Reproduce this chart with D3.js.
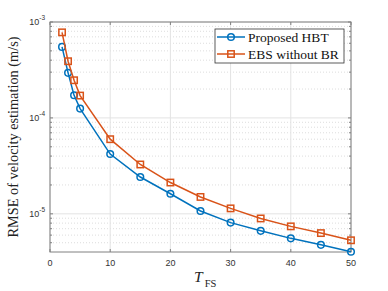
<!DOCTYPE html>
<html>
<head>
<meta charset="utf-8">
<script src="https://cdn.jsdelivr.net/npm/d3@7"></script>
<style>
  body { margin: 0; background: #fff; }
  svg { display: block; }
</style>
</head>
<body>
<div id="chart"></div>
<script>
// data
const tfs = [2, 3, 4, 5, 10, 15, 20, 25, 30, 35, 40, 45, 50];
const hbt = [5.5e-4, 2.95e-4, 1.72e-4, 1.25e-4, 4.2e-5, 2.42e-5, 1.62e-5, 1.07e-5, 8.1e-6, 6.65e-6, 5.55e-6, 4.75e-6, 4.02e-6];
const ebs = [7.8e-4, 3.9e-4, 2.47e-4, 1.71e-4, 6.0e-5, 3.27e-5, 2.12e-5, 1.5e-5, 1.14e-5, 8.95e-6, 7.4e-6, 6.3e-6, 5.3e-6];
const xTicks = [0, 10, 20, 30, 40, 50];
const yTicks = [1e-3, 1e-4, 1e-5];
const seriesNames = ["Proposed HBT", "EBS without BR"];

const W = 388, H = 291;
const margin = {top: 22, right: 37, bottom: 39, left: 50};
const serif = "'Liberation Serif', 'Times New Roman', serif";
const sans = "'Liberation Sans', Arial, sans-serif";
const blue = "#0072BD", orange = "#D95319";

let svg = d3.select("#chart").append("svg")
  .attr("width", W).attr("height", H);

let x = d3.scaleLinear().domain([0, 50]).range([margin.left, W - margin.right]);
let y = d3.scaleLog().domain([4e-6, 1e-3]).range([H - margin.bottom, margin.top]);
let x0 = x.range()[0], x1 = x.range()[1], y0 = y.range()[0], y1 = y.range()[1];

// minor grid (dotted)
let minor = [];
for (let e = -6; e <= -4; e++) {
  for (let m = 2; m <= 9; m++) {
    let v = m * Math.pow(10, e);
    if (v > 4e-6 && v < 1e-3) minor.push(v);
  }
}
let grid = svg.append("g").attr("class", "grid");
grid.selectAll(".ymin").data(minor).enter().append("line")
  .attr("x1", x0).attr("x2", x1)
  .attr("y1", d => y(d)).attr("y2", d => y(d))
  .attr("stroke", "#d4d4d4").attr("stroke-width", 0.8).attr("stroke-dasharray", "1,2");
grid.selectAll(".ymaj").data(yTicks).enter().append("line")
  .attr("x1", x0).attr("x2", x1)
  .attr("y1", d => y(d)).attr("y2", d => y(d))
  .attr("stroke", "#e3e3e3").attr("stroke-width", 1);
grid.selectAll(".xmaj").data(xTicks).enter().append("line")
  .attr("x1", d => x(d)).attr("x2", d => x(d))
  .attr("y1", y0).attr("y2", y1)
  .attr("stroke", "#e3e3e3").attr("stroke-width", 1);

// axes frame and inward ticks
let axisCol = "#808080";
svg.append("rect")
  .attr("x", x0).attr("y", y1).attr("width", x1 - x0).attr("height", y0 - y1)
  .attr("fill", "none").attr("stroke", axisCol).attr("stroke-width", 1);

let ticks = svg.append("g");
xTicks.forEach(function(t) {
  ticks.append("line").attr("x1", x(t)).attr("x2", x(t)).attr("y1", y0).attr("y2", y0 - 3).attr("stroke", axisCol);
  ticks.append("line").attr("x1", x(t)).attr("x2", x(t)).attr("y1", y1).attr("y2", y1 + 3).attr("stroke", axisCol);
});
yTicks.forEach(function(t) {
  ticks.append("line").attr("x1", x0).attr("x2", x0 + 3).attr("y1", y(t)).attr("y2", y(t)).attr("stroke", axisCol);
  ticks.append("line").attr("x1", x1).attr("x2", x1 - 3).attr("y1", y(t)).attr("y2", y(t)).attr("stroke", axisCol);
});
minor.forEach(function(t) {
  ticks.append("line").attr("x1", x0).attr("x2", x0 + 2).attr("y1", y(t)).attr("y2", y(t)).attr("stroke", axisCol);
  ticks.append("line").attr("x1", x1).attr("x2", x1 - 2).attr("y1", y(t)).attr("y2", y(t)).attr("stroke", axisCol);
});

// tick labels
svg.append("g").selectAll("text").data(xTicks).enter().append("text")
  .attr("x", d => x(d)).attr("y", y0 + 14)
  .attr("text-anchor", "middle")
  .attr("font-family", sans).attr("font-size", 9).attr("fill", "#333")
  .text(d => d);

let yl = svg.append("g").selectAll("text").data(yTicks).enter().append("text")
  .attr("x", x0 - 5).attr("y", d => y(d) + 3)
  .attr("text-anchor", "end")
  .attr("font-family", sans).attr("font-size", 9).attr("fill", "#333");
yl.append("tspan").text("10");
yl.append("tspan").attr("font-size", 6.5).attr("dy", -5).text(d => String(Math.round(Math.log10(d))));

// axis titles
svg.append("text")
  .attr("transform", "translate(18," + ((y0 + y1) / 2) + ") rotate(-90)")
  .attr("text-anchor", "middle")
  .attr("font-family", serif).attr("font-size", 14.3).attr("fill", "#222")
  .text("RMSE of velocity estimation (m/s)");

let xt = svg.append("text")
  .attr("x", 194).attr("y", 282)
  .attr("font-family", serif).attr("fill", "#222");
xt.append("tspan").attr("font-size", 15.5).attr("font-style", "italic").text("T");
xt.append("tspan").attr("font-size", 10.5).attr("dx", 2).attr("dy", 5).text("FS");

// series
function drawSeries(vals, color, marker) {
  let pts = tfs.map((t, i) => [t, vals[i]]);
  let line = d3.line().x(d => x(d[0])).y(d => y(d[1]));
  let g = svg.append("g");
  g.append("path").datum(pts)
    .attr("d", line).attr("fill", "none")
    .attr("stroke", color).attr("stroke-width", 1.5);
  if (marker === "circle") {
    g.selectAll("circle").data(pts).enter().append("circle")
      .attr("cx", d => x(d[0])).attr("cy", d => y(d[1])).attr("r", 3.3)
      .attr("fill", "none").attr("stroke", color).attr("stroke-width", 1.5);
  } else {
    g.selectAll("rect").data(pts).enter().append("rect")
      .attr("x", d => x(d[0]) - 3.2).attr("y", d => y(d[1]) - 3.2)
      .attr("width", 6.4).attr("height", 6.4)
      .attr("fill", "none").attr("stroke", color).attr("stroke-width", 1.5);
  }
}
drawSeries(hbt, blue, "circle");
drawSeries(ebs, orange, "square");

// legend
let leg = svg.append("g").attr("transform", "translate(215,29)");
leg.append("rect").attr("width", 129).attr("height", 34)
  .attr("fill", "#fff").attr("stroke", "#333").attr("stroke-width", 0.8);
seriesNames.forEach(function(name, i) {
  let cy = 8 + i * 17;
  let col = i === 0 ? blue : orange;
  leg.append("line").attr("x1", 2).attr("x2", 30).attr("y1", cy).attr("y2", cy)
    .attr("stroke", col).attr("stroke-width", 1.5);
  if (i === 0) {
    leg.append("circle").attr("cx", 16).attr("cy", cy).attr("r", 3.3)
      .attr("fill", "none").attr("stroke", col).attr("stroke-width", 1.5);
  } else {
    leg.append("rect").attr("x", 12.8).attr("y", cy - 3.2).attr("width", 6.4).attr("height", 6.4)
      .attr("fill", "none").attr("stroke", col).attr("stroke-width", 1.5);
  }
  leg.append("text").attr("x", 33).attr("y", cy + 4.5)
    .attr("font-family", serif).attr("font-size", 13.5).attr("fill", "#111")
    .text(name);
});
</script>
</body>
</html>
